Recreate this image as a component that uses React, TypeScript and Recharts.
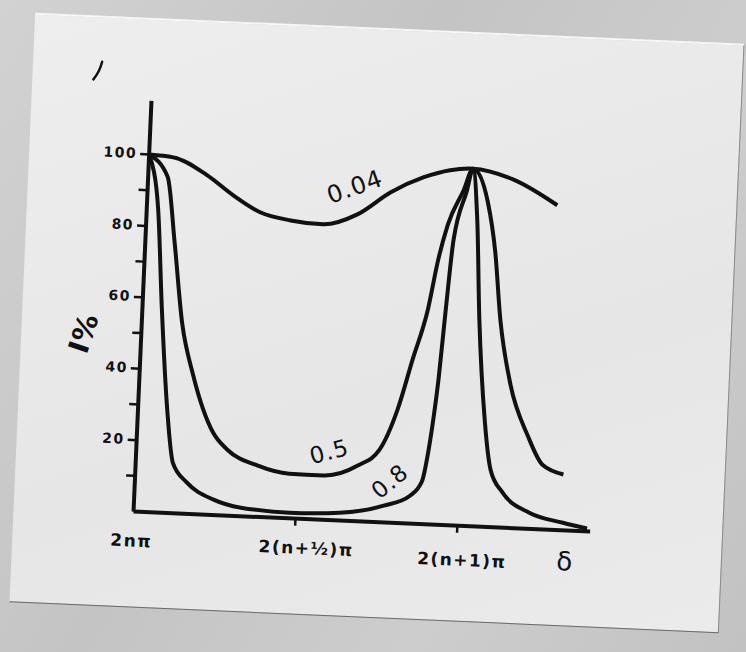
import React from "react";
import { LineChart, Line, XAxis, YAxis } from "recharts";

// phase difference in units of pi, intensity in %
const delta004 = [0, 0.15, 0.36, 0.53, 0.7, 0.89, 1.09, 1.3, 1.5, 1.7, 1.86, 2.0, 2.25, 2.53];
const intensity004 = [100, 99.5, 95, 89.6, 85.2, 83.3, 82.6, 85.8, 92.4, 97, 99.3, 100, 97.5, 90.8];

const delta05 = [
  0, 0.12, 0.18, 0.25, 0.33, 0.47, 0.56, 0.75, 0.95, 1.16, 1.37, 1.5, 1.6, 1.68, 1.76,
  1.81, 1.86, 1.95, 2.0, 2.1, 2.16, 2.21, 2.29, 2.41, 2.51, 2.64,
];
const intensity05 = [
  100, 94, 76, 53, 39, 23, 18.5, 14.4, 12.5, 12.4, 15.6, 20.3, 31.7, 46, 60,
  74, 84, 94, 100, 91, 77, 58, 40, 26, 18, 15.6,
];

const delta08 = [
  0, 0.07, 0.12, 0.18, 0.23, 0.32, 0.49, 0.66, 0.96, 1.27, 1.54, 1.7, 1.77, 1.8, 1.82,
  1.845, 1.87, 1.9, 1.97, 2.0, 2.04, 2.08, 2.14, 2.19, 2.27, 2.44, 2.65, 2.8,
];
const intensity08 = [
  100, 85, 57, 29, 14, 8.8, 4.3, 2.4, 1.6, 2.2, 4.7, 7.8, 12, 20, 28,
  41, 60, 80, 94, 100, 86, 58, 30, 16, 9.8, 4.5, 2.1, 0.8,
];

const yTicks = [10, 20, 30, 40, 50, 60, 70, 80, 90, 100];
const xTicks = [0, 1, 2];
const xTickLabels = ["2nπ", "2(n+½)π", "2(n+1)π"];
const curveNames = ["0.04", "0.5", "0.8"];

const toPoints = (xs: number[], ys: number[]) =>
  xs.map((d, i) => ({ delta: d, intensity: ys[i] }));

const ink = "#111";
const font = "'DejaVu Sans', sans-serif";

const YTick = (props: any) => {
  const { x, y, payload } = props;
  if (payload.value % 20 !== 0) return <g />;
  return (
    <text
      x={x}
      y={y}
      dy={4}
      textAnchor="end"
      fill={ink}
      fontFamily={font}
      fontWeight="bold"
      fontSize={14}
      letterSpacing={1.5}
    >
      {payload.value}
    </text>
  );
};

// hand lettering sits a bit off the tick marks
const xNudge = [
  { dx: -1, dy: 35 },
  { dx: 12, dy: 35 },
  { dx: 6, dy: 40 },
];

const XTick = (props: any) => {
  const { x, y, payload } = props;
  const i = xTicks.indexOf(payload.value);
  return (
    <g>
      {payload.value > 0 && (
        <line x1={x} y1={y} x2={x} y2={y + 7} stroke={ink} strokeWidth={2.5} />
      )}
      <text
        x={x + xNudge[i].dx}
        y={y + xNudge[i].dy}
        textAnchor="middle"
        fill={ink}
        fontFamily={font}
        fontWeight="bold"
        fontSize={17}
        letterSpacing={1.5}
      >
        {xTickLabels[i]}
      </text>
    </g>
  );
};

const note = (left: number, top: number, angle: number, size: number, bold = false): React.CSSProperties => ({
  position: "absolute",
  left,
  top,
  transform: `translate(-50%, -50%) rotate(${angle}deg)`,
  fontFamily: font,
  fontSize: size,
  fontWeight: bold ? "bold" : "normal",
  color: ink,
  letterSpacing: 1,
  whiteSpace: "nowrap",
  lineHeight: 1,
});

export default function App() {
  return (
    <div
      style={{
        position: "absolute",
        left: 0,
        top: 0,
        width: 746,
        height: 652,
        overflow: "hidden",
        background: "linear-gradient(120deg, #d2d2d2, #c4c4c4 40%, #cdcdcd 70%, #c2c2c2)",
      }}
    >
      <div
        style={{
          position: "absolute",
          left: 22,
          top: 28,
          width: 710,
          height: 590,
          transform: "rotate(2.5deg)",
          transformOrigin: "center",
          background: "linear-gradient(160deg, #eeeeee, #e6e6e6 60%, #ebebeb)",
          borderTop: "2px solid #f7f7f7",
          borderBottom: "1.5px solid #6a6a6a",
          borderRight: "1px solid #8a8a8a",
          boxSizing: "border-box",
        }}
      >
        <div style={{ position: "absolute", left: 0, top: 0 }}>
          <LineChart
            width={710}
            height={590}
            margin={{ top: 81, right: 133, bottom: 38, left: 60 }}
          >
            <XAxis
              type="number"
              dataKey="delta"
              domain={[0, 2.82]}
              ticks={xTicks}
              height={60}
              tickSize={0}
              tickMargin={0}
              tickLine={false}
              axisLine={{ stroke: ink, strokeWidth: 4 }}
              tick={<XTick />}
              allowDataOverflow
            />
            <YAxis
              type="number"
              dataKey="intensity"
              domain={[0, 115]}
              ticks={yTicks}
              width={60}
              tickSize={9}
              tickMargin={3}
              tickLine={{ stroke: ink, strokeWidth: 2.5 }}
              axisLine={{ stroke: ink, strokeWidth: 4 }}
              tick={<YTick />}
              allowDataOverflow
            />
            <Line
              data={toPoints(delta004, intensity004)}
              dataKey="intensity"
              type="monotone"
              stroke={ink}
              strokeWidth={4}
              dot={false}
              isAnimationActive={false}
              name={curveNames[0]}
            />
            <Line
              data={toPoints(delta05, intensity05)}
              dataKey="intensity"
              type="monotone"
              stroke={ink}
              strokeWidth={4}
              dot={false}
              isAnimationActive={false}
              name={curveNames[1]}
            />
            <Line
              data={toPoints(delta08, intensity08)}
              dataKey="intensity"
              type="monotone"
              stroke={ink}
              strokeWidth={4}
              dot={false}
              isAnimationActive={false}
              name={curveNames[2]}
            />
          </LineChart>
        </div>

        <div style={note(327, 158, -22, 24)}>{curveNames[0]}</div>
        <div style={note(313, 424, -17, 23)}>{curveNames[1]}</div>
        <div style={note(375, 451, -42, 23)}>{curveNames[2]}</div>
        <div style={note(553, 523, 0, 26)}>δ</div>
        <div style={note(63, 316, -74, 28, true)}>I%</div>

        <svg
          width={20}
          height={30}
          style={{ position: "absolute", left: 56, top: 40 }}
        >
          <path d="M 5 22 Q 11 14 13 4" stroke={ink} strokeWidth={2.5} fill="none" strokeLinecap="round" />
        </svg>
      </div>
    </div>
  );
}
